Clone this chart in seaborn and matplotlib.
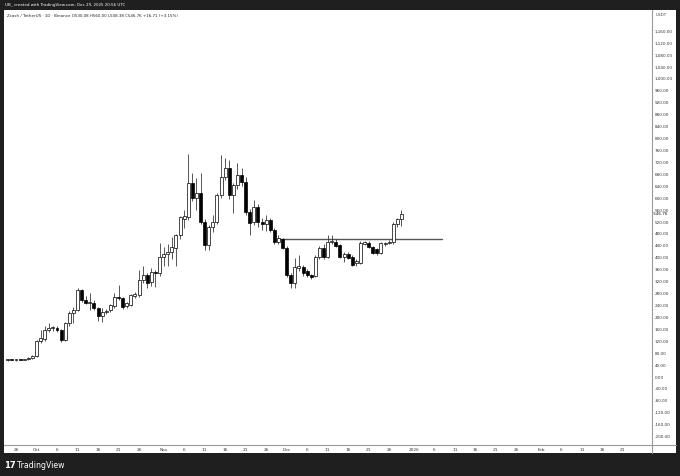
import numpy as np
import pandas as pd
import matplotlib
matplotlib.use("Agg")
import matplotlib.pyplot as plt
import matplotlib.dates as mdates
from matplotlib.patches import Rectangle
from matplotlib.lines import Line2D
import seaborn as sns

sns.set_style("white")
plt.rcParams["font.family"] = ["DejaVu Sans"]

# ---------------- DATA (ZEC/USDT daily) ----------------
start_date = "2025-09-24"
opens = [57, 58, 57, 58, 57, 59, 64, 70, 121, 128, 158, 164, 166, 158, 124, 180, 214, 226, 292, 258,
         250, 250, 230, 204, 218, 224, 238, 270, 264, 238, 242, 272, 276, 325, 342, 318, 353, 348, 402, 414,
         421, 432, 476, 530, 538, 650, 600, 616, 521, 443, 504, 521, 611, 672, 700, 611, 644, 677, 655, 555,
         521, 571, 521, 515, 527, 493, 454, 462, 432, 342, 316, 365, 368, 355, 342, 338, 404, 432, 404, 452,
         454, 443, 404, 412, 404, 381, 381, 447, 449, 437, 428, 415, 445, 450, 452, 515, 530.08]
highs = [59, 60, 59, 60, 61, 66, 73, 124, 158, 170, 182, 172, 170, 162, 186, 222, 236, 298, 296, 272,
         281, 260, 236, 230, 228, 246, 282, 309, 268, 252, 279, 284, 359, 372, 350, 365, 358, 449, 436, 448,
         471, 480, 542, 562, 750, 683, 667, 683, 530, 510, 544, 618, 745, 734, 728, 650, 717, 700, 672, 565,
         594, 580, 535, 544, 535, 500, 475, 468, 440, 350, 398, 409, 375, 362, 346, 410, 440, 445, 476, 476,
         462, 448, 420, 418, 410, 395, 455, 458, 455, 440, 432, 452, 453, 460, 520, 535, 560.00]
lows = [55, 56, 55, 56, 56, 57, 62, 68, 114, 122, 150, 154, 152, 118, 120, 172, 180, 222, 252, 244,
        225, 226, 189, 186, 212, 218, 232, 260, 228, 230, 238, 266, 270, 316, 298, 306, 303, 340, 372, 372,
        395, 372, 462, 500, 528, 590, 560, 512, 426, 426, 488, 515, 600, 660, 598, 549, 630, 640, 545, 476,
        510, 505, 495, 490, 488, 448, 445, 428, 335, 300, 300, 355, 340, 335, 330, 334, 395, 395, 398, 445,
        435, 398, 387, 395, 372, 372, 378, 442, 432, 412, 408, 412, 440, 446, 448, 505, 508.38]
closes = [58, 57, 58, 57, 59, 64, 70, 121, 130, 158, 164, 166, 158, 124, 180, 214, 226, 292, 258, 248,
          252, 230, 204, 218, 222, 242, 270, 264, 236, 247, 275, 278, 325, 342, 315, 353, 348, 404, 414, 421,
          436, 476, 538, 540, 650, 600, 616, 521, 443, 504, 521, 611, 672, 700, 611, 644, 678, 655, 555, 518,
          571, 521, 515, 527, 493, 454, 465, 432, 342, 314, 370, 372, 348, 342, 336, 404, 432, 404, 454, 458,
          440, 404, 412, 400, 376, 389, 449, 452, 438, 417, 415, 449, 450, 454, 515, 530, 546.76]
dates = pd.date_range(start_date, periods=len(opens), freq="D")

level_price = 462
level_start, level_end = "2025-11-29", "2026-01-08"

last_price = 546.76
y_ticks = list(range(-200, 1161, 40))
x_tick_dates = ["2025-09-26", "2025-10-01", "2025-10-06", "2025-10-11", "2025-10-16", "2025-10-21",
                "2025-10-26", "2025-11-01", "2025-11-06", "2025-11-11", "2025-11-16", "2025-11-21",
                "2025-11-26", "2025-12-01", "2025-12-06", "2025-12-11", "2025-12-16", "2025-12-21",
                "2025-12-26", "2026-01-01", "2026-01-06", "2026-01-11", "2026-01-16", "2026-01-21",
                "2026-01-26", "2026-02-01", "2026-02-06", "2026-02-11", "2026-02-16", "2026-02-21"]
x_tick_labels = ["26", "Oct", "6", "11", "16", "21", "26", "Nov", "6", "11", "16", "21", "26", "Dec",
                 "6", "11", "16", "21", "26", "2026", "6", "11", "16", "21", "26", "Feb", "6", "11", "16", "21"]

df = pd.DataFrame({"date": dates, "open": opens, "high": highs, "low": lows, "close": closes})
df["x"] = mdates.date2num(df["date"])
df["up"] = df["close"] >= df["open"]

# ---------------- FIGURE ----------------
W, H = 680, 476
BG = "#1f1f1f"
fig = plt.figure(figsize=(W / 100, H / 100), dpi=100, facecolor=BG)

# white chart panel (behind everything)
panel = Rectangle((4 / W, 1 - 453 / H), (676 - 4) / W, (453 - 10) / H,
                  transform=fig.transFigure, facecolor="white", edgecolor="none", zorder=-10)
fig.patches.append(panel)

ax = fig.add_axes([4 / W, 1 - 445 / H, (652 - 4) / W, (445 - 10) / H])
ax.set_zorder(1)
ax.set_facecolor("white")

# wicks
ax.vlines(df["x"], df["low"], df["high"], color="#2a2a2a", linewidth=0.55, zorder=2)
# bodies
body_h = (df["close"] - df["open"]).abs().clip(lower=2.5)
body_b = df[["open", "close"]].min(axis=1)
ax.bar(df["x"], body_h, bottom=body_b, width=0.72,
       color=np.where(df["up"], "white", "black"), edgecolor="black", linewidth=0.5, zorder=3)

# horizontal level line
sns.lineplot(x=mdates.date2num(pd.to_datetime([level_start, level_end])), y=[level_price, level_price],
             color="#555555", linewidth=1.0, ax=ax, zorder=1)

x0 = df["x"].iloc[0]
ax.set_xlim(x0 - 0.93, x0 + 157.1)
ax.set_ylim(-228, 1231.5)

for s in ["top", "left"]:
    ax.spines[s].set_visible(False)
for s in ["right", "bottom"]:
    ax.spines[s].set_color("#9a9a9a")
    ax.spines[s].set_linewidth(0.8)

ax.yaxis.tick_right()
ax.set_yticks(y_ticks)
ax.set_yticklabels([f"{v:,.2f}" for v in y_ticks])
ax.tick_params(axis="y", length=0, pad=2, labelsize=3.0, colors="#333333")
ax.set_xticks(mdates.date2num(pd.to_datetime(x_tick_dates)))
ax.set_xticklabels(x_tick_labels)
ax.tick_params(axis="x", length=0, pad=2.2, labelsize=3.1, colors="#333333")
ax.set_xlabel("")
ax.set_ylabel("")

# last price label
ax.text(1.0, last_price, f" {last_price:.2f}", transform=ax.get_yaxis_transform(),
        ha="left", va="center", fontsize=3.0, color="#111111", clip_on=False)

# frame lines in the price/time axis strips
fig.add_artist(Line2D([652 / W, 652 / W], [1 - 453 / H, 1 - 445 / H], color="#9a9a9a", lw=0.8))
fig.add_artist(Line2D([652 / W, 676 / W], [1 - 445 / H, 1 - 445 / H], color="#9a9a9a", lw=0.8))

# texts
fig.text(5 / W, 1 - 5 / H, "UB_ created with TradingView.com, Dec 29, 2025 20:56 UTC",
         color="white", fontsize=2.9, va="center", ha="left")
fig.text(7 / W, 1 - 16 / H,
         "Zcash / TetherUS · 1D · Binance O530.08 H560.00 L508.38 C546.76 +16.71 (+3.15%)",
         color="#222222", fontsize=2.9, va="center", ha="left", zorder=5)
fig.text(656 / W, 1 - 15 / H, "USDT", color="#444444", fontsize=3.0, va="center", ha="left", zorder=5)
fig.text(4 / W, 1 - 465 / H, "17", color="white", fontsize=6.0, fontweight="bold", va="center", ha="left")
fig.text(17 / W, 1 - 465 / H, "TradingView", color="white", fontsize=5.6, va="center", ha="left")

fig.savefig("out.png", dpi=100, facecolor=BG)
